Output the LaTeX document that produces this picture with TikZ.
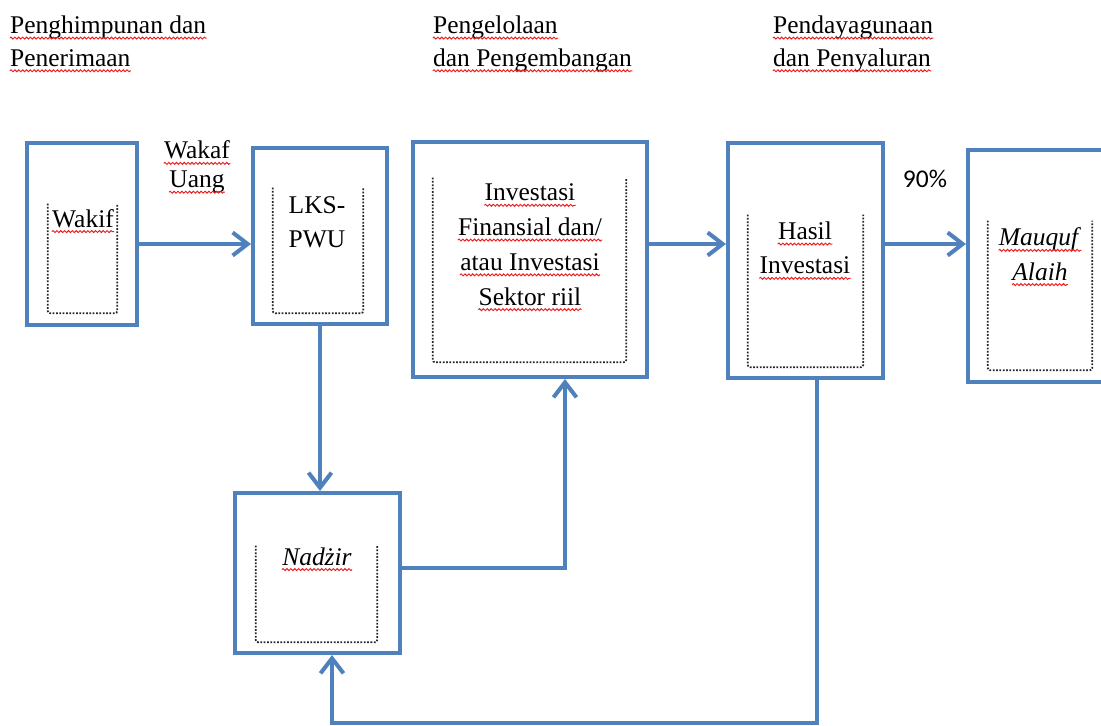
\documentclass[tikz,border=0pt]{standalone}
\usepackage{fontspec}
\setmainfont{Liberation Serif}
\newfontfamily\calibrifont{Carlito}
\usetikzlibrary{arrows.meta,positioning,calc,fit,decorations.pathmorphing}
\definecolor{StageBlue}{RGB}{79,129,189}
\definecolor{SpellRed}{RGB}{235,30,30}
\tikzset{
  stage/.style={draw=StageBlue,line width=2.3pt,inner sep=0pt},
  textframe/.style={inner sep=0pt},
  dotframe/.style={draw=black!85,line width=1pt,dash pattern=on 1pt off 0.9pt,rounded corners=1.5pt},
  txt/.style={font=\fontsize{14.5}{19.5}\selectfont,align=center,inner sep=0pt},
  headtxt/.style={font=\fontsize{14.5}{18.6}\selectfont,align=left,inner sep=0pt,anchor=north west},
  flow/.style={-{Straight Barb[length=3mm,width=4.6mm]},draw=StageBlue,line width=2.3pt},
  squiggle/.style={draw=SpellRed,line width=0.55pt,decorate,decoration={snake,amplitude=0.55pt,segment length=2.2pt}}
}
\newcommand{\spell}[1]{\tikz[baseline=(w.base)]{\node[inner sep=0pt] (w) {#1};\draw[squiggle] ([yshift=-2.6pt]w.base west)--([yshift=-2.6pt]w.base east);}}

\begin{document}
\begin{tikzpicture}[x=0.02cm,y=-0.02cm]
\clip (0,0) rectangle (1101,726);
\coordinate (row) at (0,244);
\coordinate (nturn) at (565,568);
\coordinate (hturn) at (817,723);
\coordinate (nret) at (332,723);

% stages
\node[stage,fit={(27,143)(137,325)}] (wakif) {};
\node[stage,fit={(253,148)(387,324)}] (lks) {};
\node[stage,fit={(413,142)(647,377)}] (invest) {};
\node[stage,fit={(728,143)(883,378)}] (hasil) {};
\node[stage,fit={(968,150)(1150,382)}] (mauquf) {};
\node[stage,fit={(235,493)(400,653)}] (nadzir) {};

% dotted text frames
\node[textframe,fit={(48,204)(117,313)}] (wakifbox) {};
\node[textframe,fit={(273,188)(363,313)}] (lksbox) {};
\node[textframe,fit={(433,178)(626,362)}] (investbox) {};
\node[textframe,fit={(748,215)(863,367)}] (hasilbox) {};
\node[textframe,fit={(988,221)(1092,370)}] (mauqufbox) {};
\node[textframe,fit={(256,546)(377,642)}] (nadzirbox) {};
\draw[dotframe](wakifbox.north west)|-(wakifbox.south east)--(wakifbox.north east);\draw[dotframe](lksbox.north west)|-(lksbox.south east)--(lksbox.north east);\draw[dotframe](investbox.north west)|-(investbox.south east)--(investbox.north east);
\draw[dotframe](hasilbox.north west)|-(hasilbox.south east)--(hasilbox.north east);\draw[dotframe](mauqufbox.north west)|-(mauqufbox.south east)--(mauqufbox.north east);\draw[dotframe](nadzirbox.north west)|-(nadzirbox.south east)--(nadzirbox.north east);

% connectors
\draw[flow](wakif.east|-row)--(lks.west|-row);\draw[flow](invest.east|-row)--(hasil.west|-row);\draw[flow](hasil.east|-row)--(mauquf.west|-row);
\draw[flow](lks.south)--(lks.south|-nadzir.north);
\draw[flow](nadzir.east|-nturn)-|(nturn|-invest.south);
\draw[flow](hturn|-hasil.south)--(hturn)--(nret)--(nret|-nadzir.south);

% texts
\node[headtxt] (head1) at (9,15.5) {\spell{Penghimpunan dan}\\\spell{Penerimaan}};
\node[headtxt] (head2) at (432,15.5) {\spell{Pengelolaan}\\\spell{dan Pengembangan}};
\node[headtxt] (head3) at (772,15.5) {\spell{Pendayagunaan}\\\spell{dan Penyaluran}};
\node[txt,anchor=base] (wakiftxt) at (83,227) {\spell{Wakif}};
\node[txt,anchor=north,font=\fontsize{14.5}{16.4}\selectfont] (uang) at (197,140.5) {\spell{Wakaf}\\\spell{Uang}};
\node[txt,anchor=north] (lkstxt) at (317,196) {LKS-\\PWU};
\node[txt,anchor=north,font=\fontsize{14.5}{19.8}\selectfont] (investtxt) at (530,183.5) {\spell{Investasi}\\\spell{Finansial dan/}\\\spell{atau Investasi}\\\spell{Sektor riil}};
\node[txt,anchor=north] (hasiltxt) at (805,221.5) {\spell{Hasil}\\\spell{Investasi}};
\node[txt,anchor=base,font=\calibrifont\fontsize{14.5}{17}\selectfont] (persen) at (925,188) {90\%};
\node[txt,anchor=north] (mauquftxt) at (1040,227.5) {\spell{\textit{Mauquf}}\\\spell{\textit{Alaih}}};
\node[txt,anchor=base] (nadzirtxt) at (317,565) {\spell{\textit{Nadżir}}};
\end{tikzpicture}
\end{document}
